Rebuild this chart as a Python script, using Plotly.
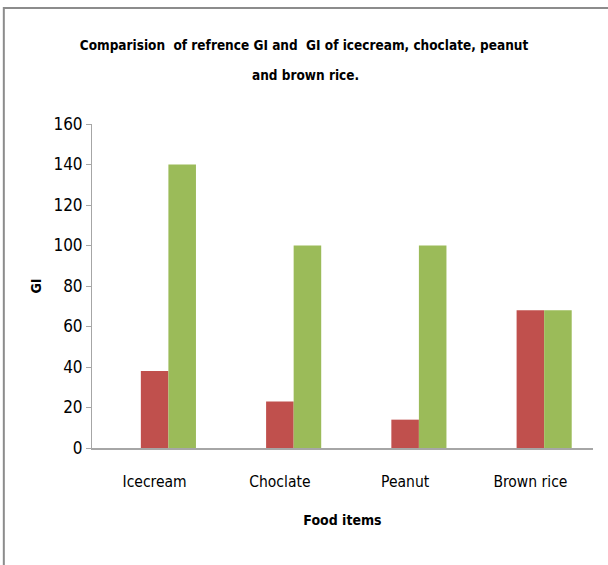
import plotly.graph_objects as go

categories = ["Icecream", "Choclate", "Peanut", "Brown rice"]
blank_series = [None, None, None, None]
gi_food = [38, 23, 14, 68]
gi_reference = [140, 100, 100, 68]
y_ticks = [0, 20, 40, 60, 80, 100, 120, 140, 160]

FONT = "DejaVu Sans Condensed, DejaVu Sans, sans-serif"

fig = go.Figure()
fig.add_trace(go.Bar(x=categories, y=blank_series, name="",
                     marker=dict(color="#4F81BD", line=dict(width=0))))
fig.add_trace(go.Bar(x=categories, y=gi_food, name="GI",
                     marker=dict(color="#C0504D", line=dict(width=0))))
fig.add_trace(go.Bar(x=categories, y=gi_reference, name="Reference GI",
                     marker=dict(color="#9BBB59", line=dict(width=0))))

fig.update_layout(
    width=608, height=565,
    margin=dict(l=92, r=15, t=124, b=117),
    paper_bgcolor="white", plot_bgcolor="white",
    barmode="group", bargap=0.34, bargroupgap=0,
    showlegend=False,
    title=dict(
        text="<b>Comparision  of refrence GI and  GI of icecream, choclate, peanut</b>",
        x=0.5, xanchor="center", y=1 - 45 / 565, yanchor="middle",
        font=dict(family=FONT, size=13.5, color="black"),
    ),
    annotations=[dict(
        text="<b>and brown rice.</b>", xref="paper", yref="paper",
        x=0.5 + (305 - 342) / 501, y=(448 - 75) / 324, xanchor="center", yanchor="middle",
        showarrow=False, font=dict(family=FONT, size=13.5, color="black"),
    )],
    font=dict(family=FONT, color="black"),
    xaxis=dict(
        showline=True, linecolor="#A6A6A6", linewidth=2,
        ticks="outside", ticklen=18, tickcolor="rgba(0,0,0,0)",
        tickfont=dict(size=15.5, family=FONT, color="black"),
        title=dict(text="<b>Food items</b>", font=dict(size=14, family=FONT), standoff=26),
    ),
    yaxis=dict(
        range=[0, 160], tickvals=y_ticks,
        showline=True, linecolor="#A6A6A6", linewidth=1,
        ticks="outside", ticklen=5, tickcolor="#A6A6A6",
        showgrid=False, zeroline=False,
        tickfont=dict(size=17, family=FONT, color="black"),
        title=dict(text="<b>GI</b>", font=dict(size=14, family=FONT), standoff=8),
    ),
    shapes=[dict(type="rect", xref="paper", yref="paper",
                 x0=-0.176, x1=1.2, y0=-0.5, y1=1.358,
                 line=dict(color="#8C8C8C", width=2), fillcolor="rgba(0,0,0,0)",
                 layer="below")],
)

fig.write_html("out.html")
